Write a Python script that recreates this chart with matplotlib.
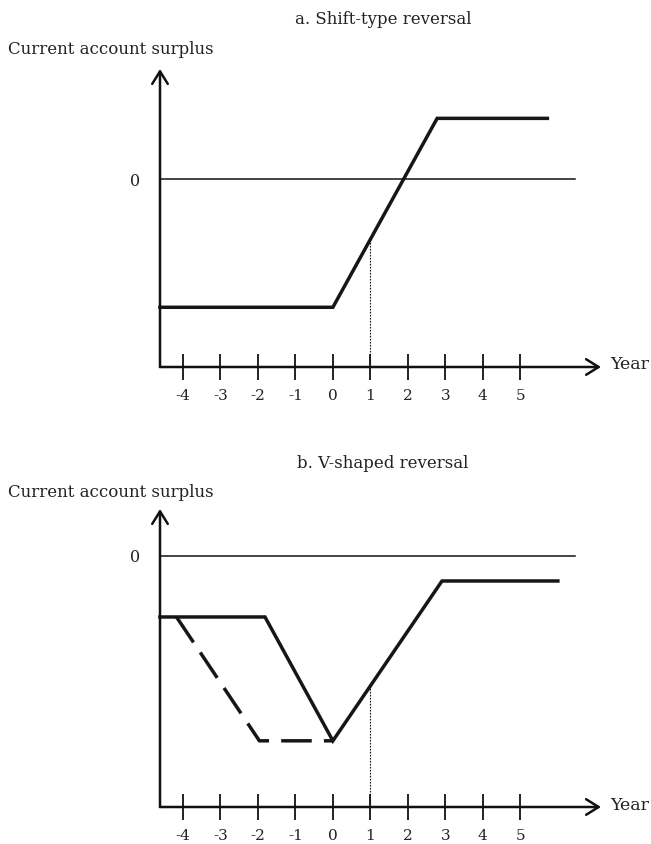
import matplotlib
matplotlib.use("Agg")
import matplotlib.pyplot as plt

# ---- data (schematic: years on x, current account surplus on y) ----
years = [-4, -3, -2, -1, 0, 1, 2, 3, 4, 5]
year_labels = ["-4", "-3", "-2", "-1", "0", "1", "2", "3", "4", "5"]

# a. Shift-type reversal
shift_x = [-4.61, 0.0, 2.78, 5.72]
shift_y = [-2.10, -2.10, 1.00, 1.00]

# b. V-shaped reversal
v_x = [-4.61, -1.81, 0.0, 2.91, 6.00]
v_y = [-1.00, -1.00, -3.03, -0.41, -0.41]
v_early_x = [-4.17, -1.96, 0.0]
v_early_y = [-1.00, -3.03, -3.03]

marker_year = 1

# ---- layout ----
W, H, DPI = 651, 844, 100
FONT = "DejaVu Serif"
fig = plt.figure(figsize=(W / DPI, H / DPI), dpi=DPI)
fig.patch.set_facecolor("white")


def px(x, y):
    return x / W, 1 - y / H


def panel(bottom_px, top_px, ylim, title, title_y, label_y, series):
    left_px, right_px = 160, 601
    ax = fig.add_axes([left_px / W, 1 - bottom_px / H,
                       (right_px - left_px) / W, (bottom_px - top_px) / H])
    xmin, xmax = -4.61, 7.15
    ymin, ymax = ylim
    ax.set_xlim(xmin, xmax)
    ax.set_ylim(ymin, ymax)
    for s in ax.spines.values():
        s.set_visible(False)
    ax.set_facecolor("none")

    # axes with open arrow heads
    arrow = dict(arrowstyle="->,head_length=0.45,head_width=0.28",
                 lw=1.8, color="#111111", mutation_scale=20,
                 shrinkA=0, shrinkB=0)
    ax.annotate("", xy=(xmax, ymin), xytext=(xmin, ymin),
                arrowprops=arrow, annotation_clip=False)
    ax.annotate("", xy=(xmin, ymax), xytext=(xmin, ymin),
                arrowprops=arrow, annotation_clip=False)

    # ticks
    ax.set_xticks(years)
    ax.set_xticklabels(year_labels, fontfamily=FONT, fontsize=11)
    ax.tick_params(axis="x", direction="inout", length=19, width=1.3,
                   color="#111111", pad=6.5, labelcolor="#222222")
    ax.set_yticks([0])
    ax.set_yticklabels(["0"], fontfamily=FONT, fontsize=11.5)
    ax.tick_params(axis="y", length=0, pad=14, labelcolor="#222222")

    # zero line
    ax.plot([xmin, 6.45], [0, 0], color="#111111", lw=1.1, clip_on=False)

    for kind, xs, ys in series:
        if kind == "solid":
            ax.plot(xs, ys, color="#161616", lw=2.5,
                    solid_joinstyle="miter", clip_on=False)
        else:
            ax.plot(xs, ys, color="#161616", lw=2.5,
                    linestyle=(0, (8.8, 3.5)), clip_on=False)

    # dotted guide at year 1
    xs, ys = series[0][1], series[0][2]
    for i in range(len(xs) - 1):
        if xs[i] <= marker_year <= xs[i + 1]:
            t = (marker_year - xs[i]) / (xs[i + 1] - xs[i])
            yv = ys[i] + t * (ys[i + 1] - ys[i])
    ax.plot([marker_year, marker_year], [ymin, yv], color="#111111",
            lw=0.8, linestyle=(0, (1.5, 1.2)))

    fig.text(*px(383, title_y), title, ha="center", va="center",
             fontfamily=FONT, fontsize=12, color="#222222")
    fig.text(*px(8, label_y), "Current account surplus", ha="left",
             va="center", fontfamily=FONT, fontsize=12, color="#222222")
    fig.text(*px(610, bottom_px - 2), "Year", ha="left", va="center",
             fontfamily=FONT, fontsize=12.5, color="#222222")
    return ax


panel(367, 69, (-3.08, 1.81), "a. Shift-type reversal", 20, 50,
      [("solid", shift_x, shift_y)])
panel(807, 509, (-4.115, 0.77), "b. V-shaped reversal", 463, 493,
      [("solid", v_x, v_y), ("dashed", v_early_x, v_early_y)])

fig.savefig("out.png", dpi=DPI)
